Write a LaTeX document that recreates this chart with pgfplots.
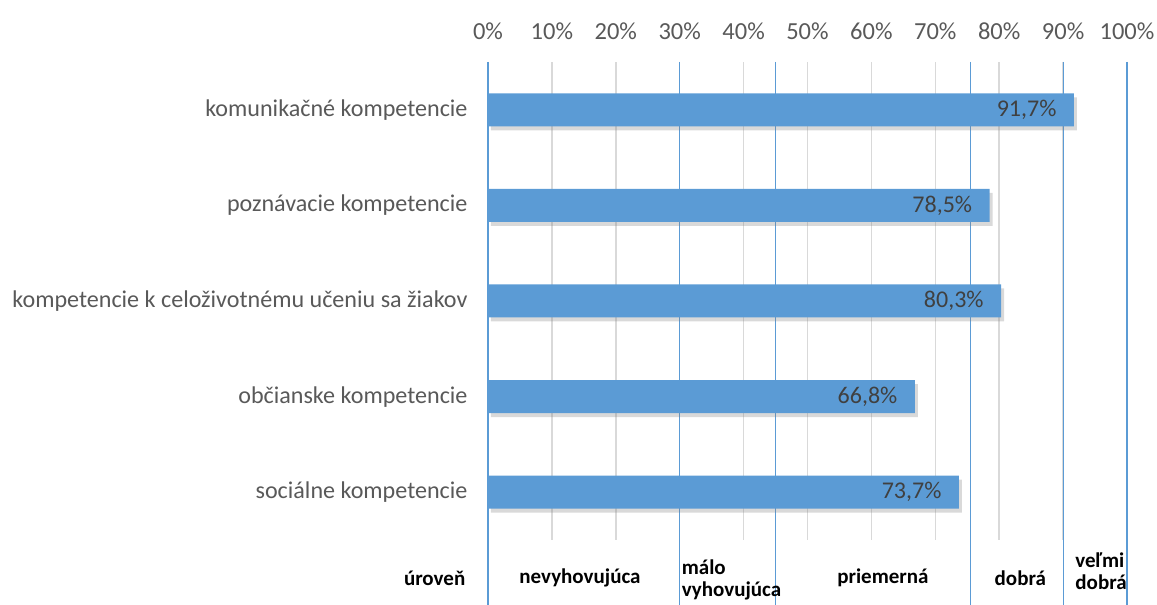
\documentclass[border=0pt]{standalone}
\usepackage{fontspec}
\setmainfont{Carlito}
\usepackage{pgfplots}
\pgfplotsset{compat=1.18}
\usetikzlibrary{shadows}
\definecolor{barblue}{HTML}{5B9BD5}
\definecolor{gridgray}{HTML}{D9D9D9}
\definecolor{txtgray}{HTML}{595959}
\definecolor{lblgray}{HTML}{404040}
\begin{document}
\begin{tikzpicture}[x=1pt,y=1pt]
\path[use as bounding box] (-488,-65) rectangle (669,540);
\begin{axis}[
  at={(0,0)}, anchor=south west,
  scale only axis, width=639pt, height=478pt,
  xmin=0, xmax=100, ymin=-0.5, ymax=4.5,
  clip=false,
  axis line style={draw=none},
  major tick length=0pt,
  xtick={0,10,...,100},
  xticklabel pos=upper,
  xticklabel={\pgfmathprintnumber{\tick}\%},
  xticklabel style={font=\fontsize{24.5}{28}\selectfont, text=txtgray, yshift=19pt},
  ytick={0,1,2,3,4},
  yticklabels={sociálne kompetencie, občianske kompetencie, kompetencie k celoživotnému učeniu sa žiakov, poznávacie kompetencie, komunikačné kompetencie},
  yticklabel style={font=\fontsize{24.1}{28}\selectfont, text=txtgray, xshift=-17pt},
  xmajorgrids, ymajorgrids=false,
  grid style={gridgray, line width=1.5pt},
  /pgf/number format/assume math mode=true,
]
% level boundaries
\addplot[barblue, line width=1.1pt, forget plot] coordinates {(0,4.5) (0,-1.18)};
\addplot[barblue, line width=1.1pt, forget plot] coordinates {(30,4.5) (30,-1.18)};
\addplot[barblue, line width=1.1pt, forget plot] coordinates {(45,4.5) (45,-1.18)};
\addplot[barblue, line width=1.1pt, forget plot] coordinates {(75.5,4.5) (75.5,-1.18)};
\addplot[barblue, line width=1.1pt, forget plot] coordinates {(90,4.5) (90,-1.18)};
\addplot[barblue, line width=1.1pt, forget plot] coordinates {(100,4.5) (100,-1.18)};
% bars
\addplot[xbar, bar width=33pt, fill=barblue, draw=none,
  drop shadow={shadow xshift=3pt, shadow yshift=-4pt, opacity=0.3},
  nodes near coords={\pgfmathprintnumber[use comma,fixed,fixed zerofill,precision=1]{\pgfplotspointmeta}\%},
  every node near coord/.append style={anchor=east, xshift=-14pt, text=lblgray, font=\fontsize{24}{28}\selectfont},
] coordinates {
  (73.7,0)
  (66.8,1)
  (80.3,2)
  (78.5,3)
  (91.7,4)
};
% level labels
\node[font=\bfseries\fontsize{21}{24}\selectfont, anchor=east] at (axis cs:-3,-0.9) {úroveň};
\node[font=\bfseries\fontsize{21}{24}\selectfont] at (axis cs:14.4,-0.9) {nevyhovujúca};
\node[font=\bfseries\fontsize{21}{24}\selectfont, anchor=west, align=left, inner sep=0pt] at (axis cs:30.3,-0.92) {málo\\[-2pt]vyhovujúca};
\node[font=\bfseries\fontsize{21}{24}\selectfont] at (axis cs:61.8,-0.9) {priemerná};
\node[font=\bfseries\fontsize{21}{24}\selectfont] at (axis cs:83.3,-0.9) {dobrá};
\node[font=\bfseries\fontsize{21}{24}\selectfont, anchor=west, align=left, inner sep=0pt] at (axis cs:91.9,-0.83) {veľmi\\[-2pt]dobrá};
\end{axis}
\end{tikzpicture}
\end{document}
